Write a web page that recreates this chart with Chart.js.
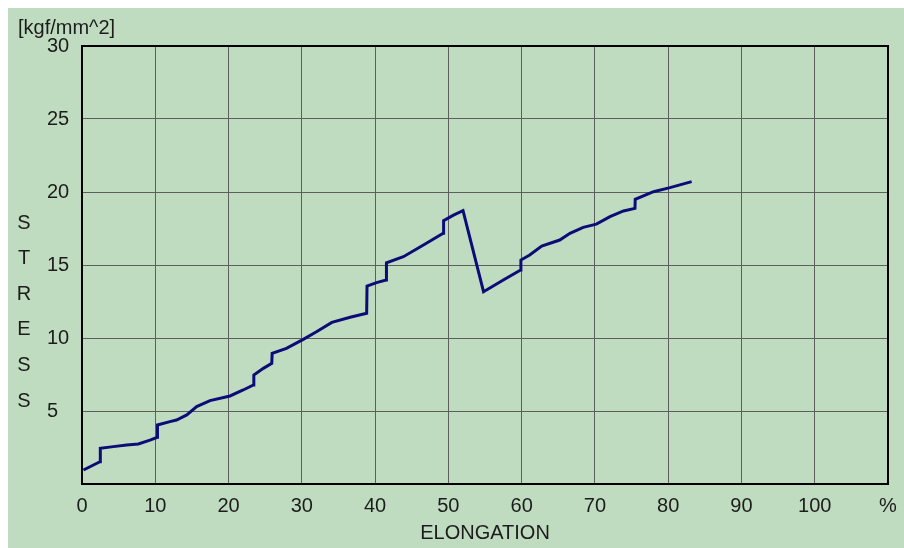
<!DOCTYPE html>
<html>
<head>
<meta charset="utf-8">
<script src="https://cdn.jsdelivr.net/npm/chart.js@4/dist/chart.umd.min.js"></script>
<style>
  html, body { margin: 0; padding: 0; background: #ffffff; }
  #panel { position: absolute; left: 8px; top: 8px; width: 896px; height: 540px; background: #C0DCC0; }
  canvas { display: block; }
</style>
</head>
<body>
<div id="panel"><canvas id="chart" width="896" height="540"></canvas></div>
<script>
// Tensile test record: elongation (%) against stress (kgf/mm^2)
const elongation = [0.2, 2.46, 2.5, 4.27, 6.1, 7.69, 9.28, 10.28, 10.3, 12.0, 12.9, 14.3, 15.65, 17.47, 20.2, 22.0, 23.4, 23.45, 24.75, 25.9, 25.95, 27.9, 30.2, 32.0, 34.1, 36.6, 38.85, 38.9, 40.2, 41.5, 41.55, 43.86, 46.6, 49.3, 49.35, 50.7, 52.0, 54.8, 57.5, 59.87, 59.9, 61.1, 62.74, 65.2, 66.6, 68.4, 70.2, 72.06, 73.9, 75.47, 75.5, 78.0, 80.25, 83.2];
const stress     = [0.96, 1.53, 2.44, 2.56, 2.67, 2.74, 3.01, 3.2, 4.04, 4.27, 4.38, 4.73, 5.3, 5.71, 6.03, 6.44, 6.78, 7.47, 7.92, 8.26, 8.95, 9.29, 9.91, 10.43, 11.07, 11.42, 11.69, 13.56, 13.79, 13.97, 15.15, 15.57, 16.37, 17.17, 18.04, 18.42, 18.72, 13.17, 13.97, 14.66, 15.34, 15.68, 16.3, 16.71, 17.17, 17.58, 17.8, 18.31, 18.7, 18.88, 19.5, 20.02, 20.3, 20.71];

const xTicks = [0, 10, 20, 30, 40, 50, 60, 70, 80, 90, 100, 110];
const xTickLabels = ['0', '10', '20', '30', '40', '50', '60', '70', '80', '90', '100', '%'];
const yTicks = [0, 5, 10, 15, 20, 25, 30];
const yTickLabels = ['', '5', '10', '15', '20', '25', '30'];
const stressLetters = ['S', 'T', 'R', 'E', 'S', 'S'];
const unitLabel = '[kgf/mm^2]';
const xTitle = 'ELONGATION';

const FONT = "'Liberation Sans', Arial, sans-serif";
const TEXT = '#1c1c1c';

const points = elongation.map((x, i) => ({ x: x, y: stress[i] }));

// Black frame round the plot, plus the unit label and the vertical STRESS caption
const decorations = {
  id: 'decorations',
  beforeDatasetsDraw(chart) {
    const a = chart.chartArea;
    const ctx = chart.ctx;
    ctx.save();
    ctx.strokeStyle = '#000000';
    ctx.lineWidth = 2;
    ctx.strokeRect(a.left, a.top, a.right - a.left, a.bottom - a.top);
    ctx.restore();
  },
  afterDraw(chart) {
    const ctx = chart.ctx;
    ctx.save();
    ctx.fillStyle = TEXT;
    ctx.font = '20px ' + FONT;
    ctx.textBaseline = 'middle';
    ctx.textAlign = 'left';
    ctx.fillText(unitLabel, 10, 20);
    ctx.textAlign = 'center';
    stressLetters.forEach((ch, i) => {
      ctx.fillText(ch, 16, 215 + i * 35.6);
    });
    ctx.restore();
  }
};

new Chart(document.getElementById('chart'), {
  type: 'scatter',
  data: {
    datasets: [{
      data: points,
      showLine: true,
      borderColor: '#0c0c78',
      borderWidth: 3,
      pointRadius: 0,
      tension: 0,
      fill: false
    }]
  },
  options: {
    responsive: false,
    animation: false,
    layout: { padding: { left: 39, top: 38, right: 16, bottom: 0 } },
    plugins: { legend: { display: false }, tooltip: { enabled: false } },
    scales: {
      x: {
        type: 'linear',
        min: 0,
        max: 110,
        afterBuildTicks(scale) { scale.ticks = xTicks.map(v => ({ value: v })); },
        afterFit(scale) {
          scale.height = 64;
          scale.paddingLeft = 0;
          scale.paddingRight = 0;
        },
        ticks: {
          padding: 10,
          color: TEXT,
          font: { family: FONT, size: 20 },
          maxRotation: 0,
          autoSkip: false,
          callback: (v) => xTickLabels[xTicks.indexOf(v)]
        },
        grid: { color: '#5e5e5e', lineWidth: 1, drawTicks: false },
        border: { display: false },
        title: {
          display: true,
          text: xTitle,
          color: TEXT,
          font: { family: FONT, size: 20 },
          padding: { top: 0, bottom: 3 }
        }
      },
      y: {
        type: 'linear',
        min: 0,
        max: 30,
        afterBuildTicks(scale) { scale.ticks = yTicks.map(v => ({ value: v })); },
        afterFit(scale) {
          scale.width = 35;
          scale.paddingTop = 0;
          scale.paddingBottom = 0;
        },
        ticks: {
          crossAlign: 'far',
          color: TEXT,
          font: { family: FONT, size: 20 },
          autoSkip: false,
          callback: (v) => yTickLabels[yTicks.indexOf(v)]
        },
        grid: { color: '#5e5e5e', lineWidth: 1, drawTicks: false },
        border: { display: false }
      }
    }
  },
  plugins: [decorations]
});
</script>
</body>
</html>
